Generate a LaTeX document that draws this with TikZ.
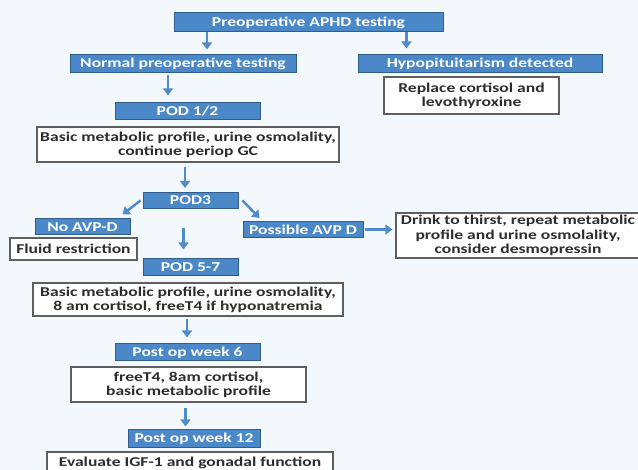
\documentclass[tikz,border=0pt]{standalone}
\usepackage{fontspec}
\setmainfont{Carlito}[FakeStretch=1.3]
\usetikzlibrary{arrows.meta,calc}
\definecolor{bgblue}{RGB}{243,248,252}
\definecolor{boxblue}{RGB}{74,136,200}
\definecolor{edgeblue}{RGB}{50,92,140}
\definecolor{arrblue}{RGB}{80,140,202}
\definecolor{edgegray}{RGB}{95,95,95}
\definecolor{txtgray}{RGB}{45,45,45}

\begin{document}
\begin{tikzpicture}[x=1pt,y=-1pt,
    bluebox/.style={draw=edgeblue,line width=1pt,fill=boxblue,text=white,
      font=\fontsize{13.5}{14}\selectfont\bfseries,inner sep=0pt,minimum height=17pt},
    whitebox/.style={draw=edgegray,line width=1.2pt,fill=white,text=txtgray,
      font=\fontsize{13.5}{14.2}\selectfont\bfseries,align=center,inner sep=0pt},
    arr/.style={draw=arrblue,line width=2.5pt,-{Triangle[length=7pt,width=10pt]}}]
  \fill[bgblue] (0,0) rectangle (638,470);
  \useasboundingbox (0,0) rectangle (638,470);
  % top
  \node[bluebox,minimum width=269pt,minimum height=19pt] (aphd) at (308.5,22.5) {Preoperative APHD testing};
  \node[bluebox,minimum width=226pt,minimum height=18pt] (normal) at (183,64) {Normal preoperative testing};
  \node[bluebox,minimum width=244pt,minimum height=18pt] (hypo) at (480,64) {Hypopituitarism detected};
  \node[whitebox,minimum width=175pt,minimum height=37pt] (replace) at (471.5,95.5) {Replace cortisol and\\levothyroxine};
  \node[bluebox,minimum width=145pt] (pod12) at (187.5,111.5) {POD 1/2};
  \node[whitebox,minimum width=302pt,minimum height=35pt] (bmp1) at (188,144.5) {Basic metabolic profile, urine osmolality,\\continue periop GC};
  % POD3 split
  \node[bluebox,minimum width=95pt,minimum height=16pt] (pod3) at (190.5,200.5) {POD3};
  \node[bluebox,minimum width=95pt,minimum height=16pt] (noavp) at (82.5,227) {No AVP-D};
  \node[whitebox,minimum width=127pt,minimum height=22pt] (fluid) at (73.5,249) {Fluid restriction};
  \node[bluebox,minimum width=120pt,minimum height=16pt] (possavp) at (303,229.5) {Possible AVP D};
  \node[whitebox,minimum width=244pt,minimum height=45pt] (drink) at (518,235.5) {Drink to thirst, repeat metabolic\\profile and urine osmolality,\\consider desmopressin};
  % follow up
  \node[bluebox,minimum width=95pt] (pod57) at (190.5,267.5) {POD 5-7};
  \node[whitebox,minimum width=310pt,minimum height=33pt] (bmp2) at (188,299.5) {Basic metabolic profile, urine osmolality,\\8 am cortisol, freeT4 if hyponatremia};
  \node[bluebox,minimum width=145pt] (week6) at (187.5,352.5) {Post op week 6};
  \node[whitebox,minimum width=235pt,minimum height=35pt] (bmp3) at (188.5,384.5) {freeT4, 8am cortisol,\\basic metabolic profile};
  \node[bluebox,minimum width=132pt,minimum height=18pt] (week12) at (194,439) {Post op week 12};
  \node[whitebox,minimum width=286pt,minimum height=22pt] (igf) at (190,463) {Evaluate IGF-1 and gonadal function};
  % arrows
  \draw[arr,shorten >=5pt] ([xshift=-101.5pt]aphd.south) -- ([xshift=-101.5pt]aphd.south |- normal.north);
  \draw[arr,shorten >=6pt] ([xshift=98pt]aphd.south) -- ([xshift=98pt]aphd.south |- hypo.north);
  \draw[arr,shorten <=2pt,shorten >=7pt] ([xshift=-15pt]normal.south) -- ([xshift=-15pt]normal.south |- pod12.north);
  \draw[arr,shorten <=4pt,shorten >=4pt] ([xshift=-3pt]bmp1.south) -- ([xshift=-3pt]bmp1.south |- pod3.north);
  \draw[arr] ([xshift=-2pt]pod3.west) -- ([xshift=-8pt,yshift=4pt]noavp.north east);
  \draw[arr] ([xshift=4pt]pod3.east) -- ([xshift=17pt,yshift=3pt]possavp.north west);
  \draw[arr,shorten <=19pt,shorten >=9pt] ([xshift=-7pt]pod3.south) -- ([xshift=-7pt]pod3.south |- pod57.north);
  \draw[arr,shorten <=1pt,shorten >=3pt] (possavp.east) -- (possavp.east -| drink.west);
  \draw[arr,shorten <=2pt,shorten >=6pt] ([xshift=-1pt]bmp2.south) -- ([xshift=-1pt]bmp2.south |- week6.north);
  \draw[arr,shorten <=5pt,shorten >=3pt] ([xshift=-3pt]bmp3.south) -- ([xshift=-3pt]bmp3.south |- week12.north);
\end{tikzpicture}
\end{document}
